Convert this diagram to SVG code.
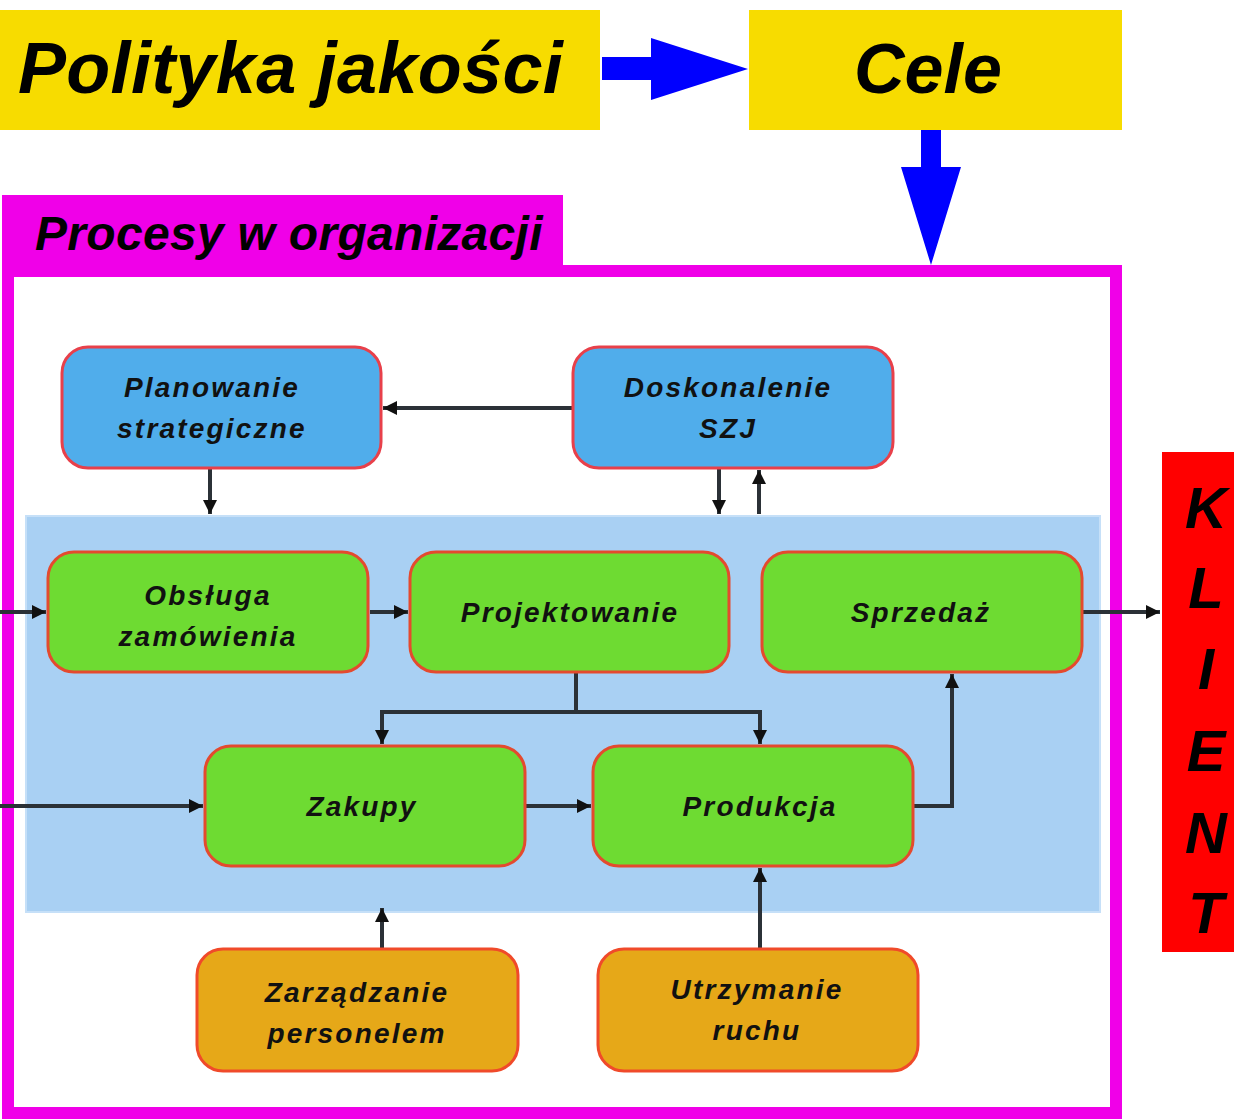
<svg xmlns="http://www.w3.org/2000/svg" width="1234" height="1119" viewBox="0 0 1234 1119">
  <style>
    .big{font-family:"Liberation Sans",Arial,sans-serif;font-weight:bold;font-style:italic;fill:#000}
    .nt{font-family:"Liberation Sans",Arial,sans-serif;font-weight:bold;font-style:italic;font-size:28px;letter-spacing:2.2px;fill:#111;text-anchor:middle}
    .blue{fill:#50ADEB;stroke:#E8404A;stroke-width:3}
    .green{fill:#6EDB32;stroke:#E44A2E;stroke-width:3}
    .orange{fill:#E6A818;stroke:#F04A2A;stroke-width:3}
    .con{stroke:#2B3137;stroke-width:4;fill:none}
  </style>
  <defs>
    <marker id="ah" viewBox="0 0 12 12" refX="12" refY="6" markerWidth="14" markerHeight="14" markerUnits="userSpaceOnUse" orient="auto">
      <path d="M0,0 L12,6 L0,12 z" fill="#111"/>
    </marker>
  </defs>
  <rect width="1234" height="1119" fill="#fff"/>

  <g id="polityka">
    <rect x="0" y="10" width="600" height="120" fill="#F7DC00"/>
    <text class="big" x="18" y="93" font-size="72" letter-spacing="0.3">Polityka jakości</text>
  </g>
  <g id="cele">
    <rect x="749" y="10" width="373" height="120" fill="#F7DC00"/>
    <text class="big" x="928" y="93" font-size="70" text-anchor="middle">Cele</text>
  </g>

  <g id="blue-arrows" fill="#0000FF">
    <polygon points="602,57 651,57 651,38 748,69 651,100 651,80 602,80"/>
    <polygon points="921,130 941,130 941,167 961,167 931,265 901,167 921,167"/>
  </g>

  <g id="procesy">
    <rect x="2" y="195" width="561" height="76" fill="#F000E8"/>
    <rect x="8" y="271" width="1108" height="842" fill="none" stroke="#F000E8" stroke-width="12"/>
    <text class="big" x="35" y="250" font-size="48" letter-spacing="0.3">Procesy w organizacji</text>
  </g>

  <rect id="core-area" x="26" y="516" width="1074" height="396" fill="#A9D0F3" stroke="#C6E0F8" stroke-width="2"/>

  <g id="klient">
    <rect x="1162" y="452" width="72" height="500" fill="#FF0000"/>
    <g class="big" font-size="58" text-anchor="middle">
      <text x="1206" y="528">K</text>
      <text x="1206" y="608">L</text>
      <text x="1206" y="689">I</text>
      <text x="1206" y="771">E</text>
      <text x="1206" y="853">N</text>
      <text x="1206" y="933">T</text>
    </g>
  </g>

  <g id="connectors">
    <line class="con" x1="573" y1="408" x2="383" y2="408" marker-end="url(#ah)"/>
    <line class="con" x1="210" y1="468" x2="210" y2="514" marker-end="url(#ah)"/>
    <line class="con" x1="719" y1="468" x2="719" y2="514" marker-end="url(#ah)"/>
    <line class="con" x1="759" y1="514" x2="759" y2="470" marker-end="url(#ah)"/>
    <line class="con" x1="0" y1="612" x2="46" y2="612" marker-end="url(#ah)"/>
    <line class="con" x1="370" y1="612" x2="408" y2="612" marker-end="url(#ah)"/>
    <polyline class="con" points="576,672 576,712 382,712 382,744" marker-end="url(#ah)"/>
    <polyline class="con" points="576,712 760,712 760,744" marker-end="url(#ah)"/>
    <line class="con" x1="0" y1="806" x2="203" y2="806" marker-end="url(#ah)"/>
    <line class="con" x1="525" y1="806" x2="591" y2="806" marker-end="url(#ah)"/>
    <polyline class="con" points="913,806 952,806 952,674" marker-end="url(#ah)"/>
    <line class="con" x1="1082" y1="612" x2="1160" y2="612" marker-end="url(#ah)"/>
    <line class="con" x1="382" y1="949" x2="382" y2="908" marker-end="url(#ah)"/>
    <line class="con" x1="760" y1="949" x2="760" y2="868" marker-end="url(#ah)"/>
  </g>

  <g id="planowanie">
    <rect class="blue" x="62" y="347" width="319" height="121" rx="26"/>
    <text class="nt" x="212" y="397">Planowanie</text>
    <text class="nt" x="212" y="438">strategiczne</text>
  </g>
  <g id="doskonalenie">
    <rect class="blue" x="573" y="347" width="320" height="121" rx="26"/>
    <text class="nt" x="728" y="397">Doskonalenie</text>
    <text class="nt" x="728" y="438">SZJ</text>
  </g>
  <g id="obsluga">
    <rect class="green" x="48" y="552" width="320" height="120" rx="26"/>
    <text class="nt" x="208" y="605">Obsługa</text>
    <text class="nt" x="208" y="646">zamówienia</text>
  </g>
  <g id="projektowanie">
    <rect class="green" x="410" y="552" width="319" height="120" rx="26"/>
    <text class="nt" x="570" y="622">Projektowanie</text>
  </g>
  <g id="sprzedaz">
    <rect class="green" x="762" y="552" width="320" height="120" rx="26"/>
    <text class="nt" x="921" y="622">Sprzedaż</text>
  </g>
  <g id="zakupy">
    <rect class="green" x="205" y="746" width="320" height="120" rx="26"/>
    <text class="nt" x="362" y="816">Zakupy</text>
  </g>
  <g id="produkcja">
    <rect class="green" x="593" y="746" width="320" height="120" rx="26"/>
    <text class="nt" x="760" y="816">Produkcja</text>
  </g>
  <g id="zarzadzanie">
    <rect class="orange" x="197" y="949" width="321" height="122" rx="26"/>
    <text class="nt" x="357" y="1002">Zarządzanie</text>
    <text class="nt" x="357" y="1043">personelem</text>
  </g>
  <g id="utrzymanie">
    <rect class="orange" x="598" y="949" width="320" height="122" rx="26"/>
    <text class="nt" x="757" y="999">Utrzymanie</text>
    <text class="nt" x="757" y="1040">ruchu</text>
  </g>
</svg>
